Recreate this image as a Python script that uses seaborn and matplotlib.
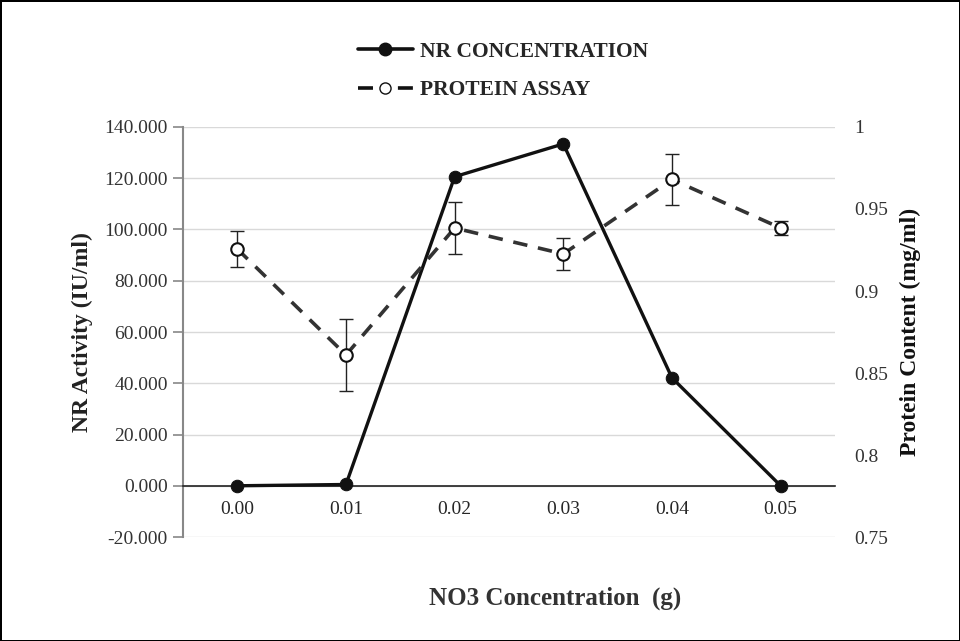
import matplotlib
matplotlib.use("Agg")
import matplotlib.pyplot as plt
import seaborn as sns
import pandas as pd
import numpy as np
from matplotlib.lines import Line2D

categories = ["0.00", "0.01", "0.02", "0.03", "0.04", "0.05"]
nr_activity = [0.0, 0.5, 120.6, 133.4, 42.1, 0.0]
protein = [0.9256, 0.861, 0.9384, 0.9226, 0.968, 0.9384]
protein_err = [0.0107, 0.022, 0.016, 0.010, 0.0155, 0.004]
left_ticks = [-20, 0, 20, 40, 60, 80, 100, 120, 140]
right_ticks = [0.75, 0.8, 0.85, 0.9, 0.95, 1.0]
right_labels = ["0.75", "0.8", "0.85", "0.9", "0.95", "1"]

sns.set_theme(style="white")
plt.rcParams['font.family'] = ['Liberation Serif', 'DejaVu Serif']

df = pd.DataFrame({"pos": np.arange(len(categories)), "cat": categories,
                   "nr": nr_activity, "protein": protein, "err": protein_err})

fig = plt.figure(figsize=(9.6, 6.41), dpi=100, edgecolor="black", linewidth=2)
ax = fig.add_axes([0.1906, 0.1622, 0.6792, 0.6397])
ax2 = ax.twinx()

# NR line
sns.lineplot(data=df, x="pos", y="nr", ax=ax, color="#111111", linewidth=2.4,
             marker="o", markersize=9, markeredgecolor="#111111", zorder=5)

# Protein line
ax2.errorbar(df["pos"], df["protein"], yerr=df["err"], fmt="none", ecolor="#222222",
             elinewidth=1, capsize=5, capthick=1, zorder=3)
sns.lineplot(data=df, x="pos", y="protein", ax=ax2, color="#333333", linewidth=2.6,
             linestyle=(0, (4, 3)), marker="o", markersize=9, markerfacecolor="white",
             markeredgecolor="#111111", markeredgewidth=1.5, zorder=4)

ax.set_xlim(-0.5, len(categories) - 0.5)
ax.set_ylim(-20, 140)
ax.set_yticks(left_ticks)
ax.set_yticklabels([f"{v:.3f}" for v in left_ticks], fontsize=14, color="#333333")
ax.set_xticks(df["pos"])
ax.set_xticklabels(categories, fontsize=14, color="#333333")
ax.yaxis.grid(True, color="#d9d9d9", linewidth=1)
ax.set_axisbelow(True)
for s in ["top", "right"]:
    ax.spines[s].set_visible(False)
ax.spines["bottom"].set_position(("data", 0))
ax.spines["bottom"].set_color("#222222")
ax.spines["bottom"].set_linewidth(1.2)
ax.spines["left"].set_color("#888888")
ax.spines["left"].set_linewidth(1.5)
ax.tick_params(axis="x", length=0, pad=11, labelsize=14)
ax.tick_params(axis="y", length=7, width=1.2, color="#888888", left=True, direction="out",
               pad=4, labelsize=14)
ax.set_xlabel("")
ax.set_ylabel("NR Activity (IU/ml)", fontsize=17, fontweight="bold", color="#222222", labelpad=8)

ax2.set_ylim(0.75, 1.0)
ax2.set_yticks(right_ticks)
ax2.set_yticklabels(right_labels, fontsize=14, color="#333333")
for s in ["top", "right", "left", "bottom"]:
    ax2.spines[s].set_visible(False)
ax2.tick_params(axis="y", length=0, pad=14, labelsize=14)
ax2.set_xlabel("")
ax2.set_ylabel("Protein Content (mg/ml)", fontsize=17, fontweight="bold", color="#111111", labelpad=8)

fig.text(0.578, 0.067, "NO3 Concentration  (g)", ha="center", va="center",
         fontsize=18, fontweight="bold", color="#333333")

handles = [Line2D([0], [0], color="#111111", linewidth=2.6, marker="o", markersize=9),
           Line2D([0], [0], color="#111111", linewidth=2.6, linestyle=(0, (4.15, 6.9)), marker="o",
                  markersize=8, markerfacecolor="white", markeredgecolor="#111111",
                  markeredgewidth=1.0)]
fig.legend(handles, ["NR CONCENTRATION", "PROTEIN ASSAY"], loc="center left",
           bbox_to_anchor=(358 / 960, 1 - 71 / 641), frameon=False, ncol=1, handlelength=2.55,
           handletextpad=0.33, borderpad=0, borderaxespad=0,
           prop={"family": "Liberation Serif", "weight": "bold", "size": 15.5}, labelspacing=0.85)

fig.savefig("out.png", dpi=100)
